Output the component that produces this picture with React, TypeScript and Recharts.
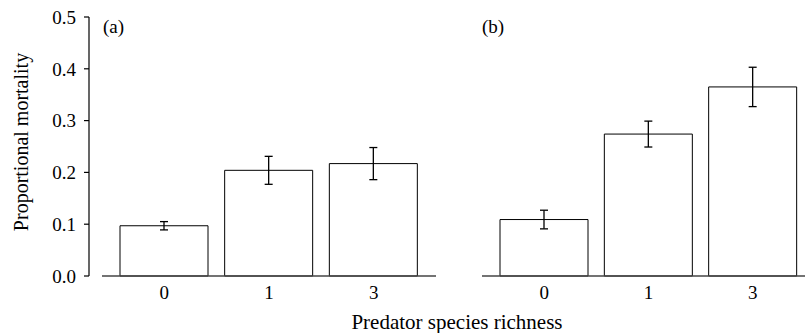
import React from "react";
import { BarChart, Bar, XAxis, YAxis, ErrorBar } from "recharts";

// predator richness levels
const richness = ["0", "1", "3"];
// panel (a)
const meanA = [0.097, 0.204, 0.217];
const errA = [0.008, 0.027, 0.031];
// panel (b)
const meanB = [0.109, 0.274, 0.365];
const errB = [0.018, 0.025, 0.038];

const yTicks = [0, 0.1, 0.2, 0.3, 0.4, 0.5];

const FONT = "'Liberation Serif', 'DejaVu Serif', serif";

const dataA = richness.map((r, i) => ({ richness: r, mean: meanA[i], err: errA[i] }));
const dataB = richness.map((r, i) => ({ richness: r, mean: meanB[i], err: errB[i] }));

function Panel({ data, width, padRight }: { data: any[]; width: number; padRight: number }) {
  return (
    <BarChart width={width} height={333} data={data} margin={{ top: 17, right: 0, bottom: 27, left: 0 }} barSize={88}>
      <XAxis
        dataKey="richness"
        padding={{ left: 10, right: padRight }}
        height={30}
        axisLine={{ stroke: "#444", strokeWidth: 1.5 }}
        tickLine={false}
        tickMargin={4}
        tick={{ fontSize: 19, fill: "#000", fontFamily: FONT }}
      />
      <YAxis hide domain={[0, 0.5]} ticks={yTicks} />
      <Bar dataKey="mean" fill="#fff" stroke="#000" strokeWidth={1} isAnimationActive={false}>
        <ErrorBar dataKey="err" width={4} stroke="#000" strokeWidth={1.3} />
      </Bar>
    </BarChart>
  );
}

export default function App() {
  return (
    <div style={{ position: "absolute", left: 0, top: 0, width: 805, height: 333, background: "#fff", fontFamily: FONT, overflow: "hidden" }}>
      {/* shared y axis, drawn in its own narrow chart so it sits apart from the bars */}
      <div style={{ position: "absolute", left: 0, top: 0 }}>
        <BarChart width={100} height={333} data={dataA} margin={{ top: 17, right: 0, bottom: 57, left: 0 }}>
          <XAxis dataKey="richness" hide />
          <YAxis
            width={89}
            domain={[0, 0.5]}
            ticks={yTicks}
            interval={0}
            tickFormatter={(v: number) => v.toFixed(1)}
            axisLine={{ stroke: "#000", strokeWidth: 1.2 }}
            tickLine={{ stroke: "#000", strokeWidth: 1.2 }}
            tickSize={5}
            tickMargin={8}
            tick={{ fontSize: 19, fill: "#000", fontFamily: FONT }}
          />
          <Bar dataKey="mean" fill="none" stroke="none" isAnimationActive={false} />
        </BarChart>
      </div>
      <div style={{ position: "absolute", left: 102, top: 0 }}>
        <Panel data={dataA} width={334} padRight={10} />
      </div>
      <div style={{ position: "absolute", left: 482, top: 0 }}>
        <Panel data={dataB} width={323} padRight={0} />
      </div>
      <div style={{ position: "absolute", left: 103, top: 17, fontSize: 19, lineHeight: "20px" }}>(a)</div>
      <div style={{ position: "absolute", left: 482, top: 17, fontSize: 19, lineHeight: "20px" }}>(b)</div>
      <div style={{ position: "absolute", left: 307, width: 300, top: 312, fontSize: 21, lineHeight: "21px", textAlign: "center" }}>
        Predator species richness
      </div>
      <div
        style={{
          position: "absolute",
          left: 21 - 120,
          top: 142 - 11,
          width: 240,
          height: 22,
          lineHeight: "22px",
          fontSize: 20,
          textAlign: "center",
          transform: "rotate(-90deg)",
        }}
      >
        Proportional mortality
      </div>
    </div>
  );
}
